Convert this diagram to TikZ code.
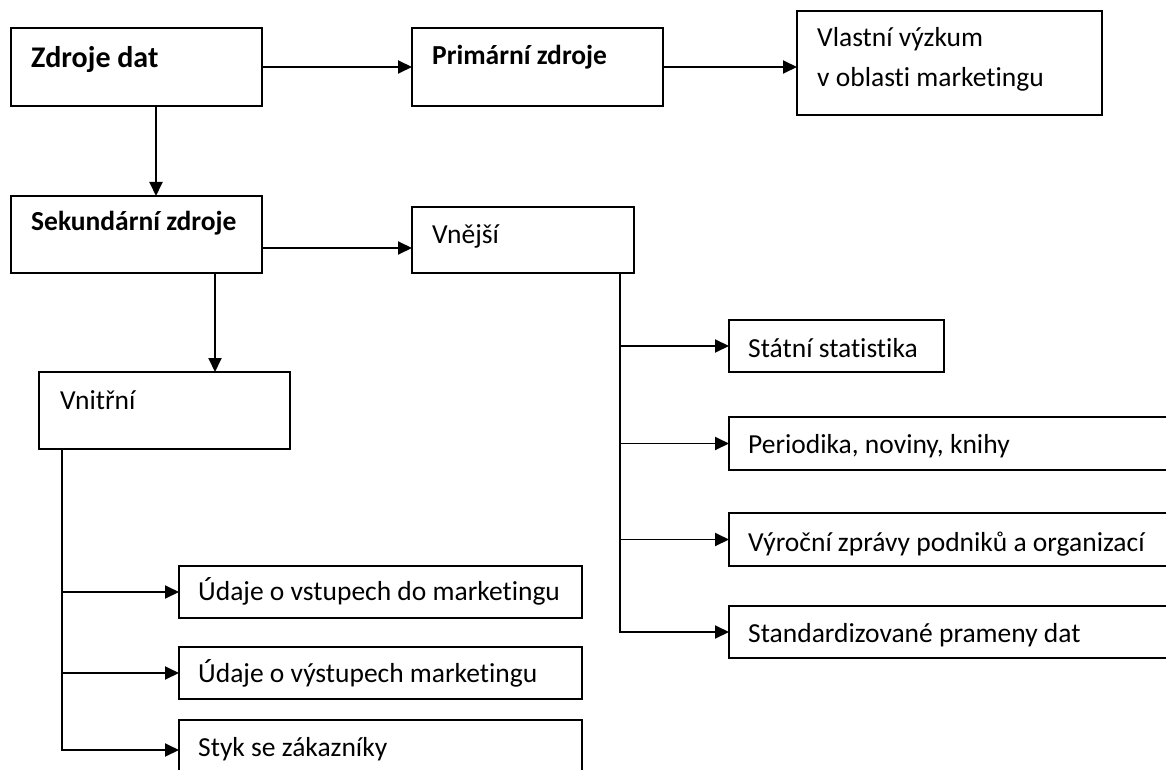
\documentclass[tikz,border=0pt]{standalone}
\usepackage{fontspec}
\setmainfont{Carlito}[Ligatures=CommonOff]
\usetikzlibrary{arrows.meta}

\begin{document}
\begin{tikzpicture}[
    x=1pt, y=-1pt,
    box/.style={draw,line width=1.9pt,inner sep=0pt,outer sep=0pt,anchor=north west},
    txt/.style={inner sep=0pt,anchor=base west,font=\fontsize{27.5}{33}\selectfont},
    head/.style={txt,font=\fontsize{27.5}{33}\selectfont\bfseries},
    arr/.style={-{Triangle[length=14pt,width=13pt]},line width=1.9pt},
  ]
    \useasboundingbox (0,0) rectangle (1166,770);
    \clip (0,0) rectangle (1166,770);

    % top row
    \node[box, minimum width=251pt, minimum height=78pt] (zd) at (11,28) {};
    \node[box, minimum width=251pt, minimum height=78pt] (pz) at (412,28) {};
    \node[box, minimum width=305pt, minimum height=104pt] (vv) at (797,11) {};
    \node[head, font=\fontsize{30}{36}\selectfont\bfseries] (zdt) at (31,68) {Zdroje dat};
    \node[head] (pzt) at (432,65) {Primární zdroje};
    \node[txt] (vvt) at (817,47) {Vlastní výzkum};
    \node[txt] (vvu) at (817,87) {v oblasti marketingu};

    % secondary sources
    \node[box, minimum width=251pt, minimum height=77pt] (sz) at (11,196) {};
    \node[box, minimum width=222pt, minimum height=66pt] (vne) at (412,207) {};
    \node[box, minimum width=251pt, minimum height=77pt] (vni) at (39,372) {};
    \node[head] (szt) at (31,230) {Sekundární zdroje};
    \node[txt] (vnet) at (432,243) {Vnější};
    \node[txt] (vnit) at (60,409) {Vnitřní};

    % internal
    \node[box, minimum width=403pt, minimum height=52pt] (u1) at (179,566) {};
    \node[box, minimum width=403pt, minimum height=52pt] (u2) at (179,647) {};
    \node[box, minimum width=403pt, minimum height=60pt] (u3) at (179,720) {};
    \node[txt] (u1t) at (198,600) {Údaje o vstupech do marketingu};
    \node[txt] (u2t) at (198,682) {Údaje o výstupech marketingu};
    \node[txt] (u3t) at (198,756) {Styk se zákazníky};

    % external
    \node[box, minimum width=215pt, minimum height=52pt] (st) at (729,320) {};
    \node[box, minimum width=460pt, minimum height=53pt] (pe) at (729,417) {};
    \node[box, minimum width=460pt, minimum height=53pt] (vy) at (729,513) {};
    \node[box, minimum width=460pt, minimum height=52pt] (sd) at (729,606) {};
    \node[txt] (stt) at (748,357) {Státní statistika};
    \node[txt] (pet) at (748,453) {Periodika, noviny, knihy};
    \node[txt] (vyt) at (748,551) {Výroční zprávy podniků a organizací};
    \node[txt] (sdt) at (748,642) {Standardizované prameny dat};

    \draw[arr] (zd) -- (pz);
    \draw[arr] (pz.east) -- (pz.east -| vv.west);
    \draw[arr] ([xshift=19.5pt]zd.south) -- ([xshift=19.5pt]zd.south |- sz.north);
    \draw[arr] ([yshift=-13.5pt]sz.east) -- ([yshift=-13.5pt]sz.east -| vne.west);
    \draw[arr] ([xshift=78.5pt]sz.south) -- ([xshift=78.5pt]sz.south |- vni.north);

    \coordinate (vniT) at ([xshift=-102.5pt]vni.south);
    \draw[arr] (vniT) |- (u3.west);
    \foreach \n in {u1,u2}
      \draw[arr] (vniT |- \n.west) -- (\n.west);

    \coordinate (vneT) at ([xshift=97pt]vne.south);
    \draw[arr] (vneT) |- (sd.west);
    \foreach \n in {st,pe,vy}
      \draw[arr] (vneT |- \n.west) -- (\n.west);
  \end{tikzpicture}
\end{document}
